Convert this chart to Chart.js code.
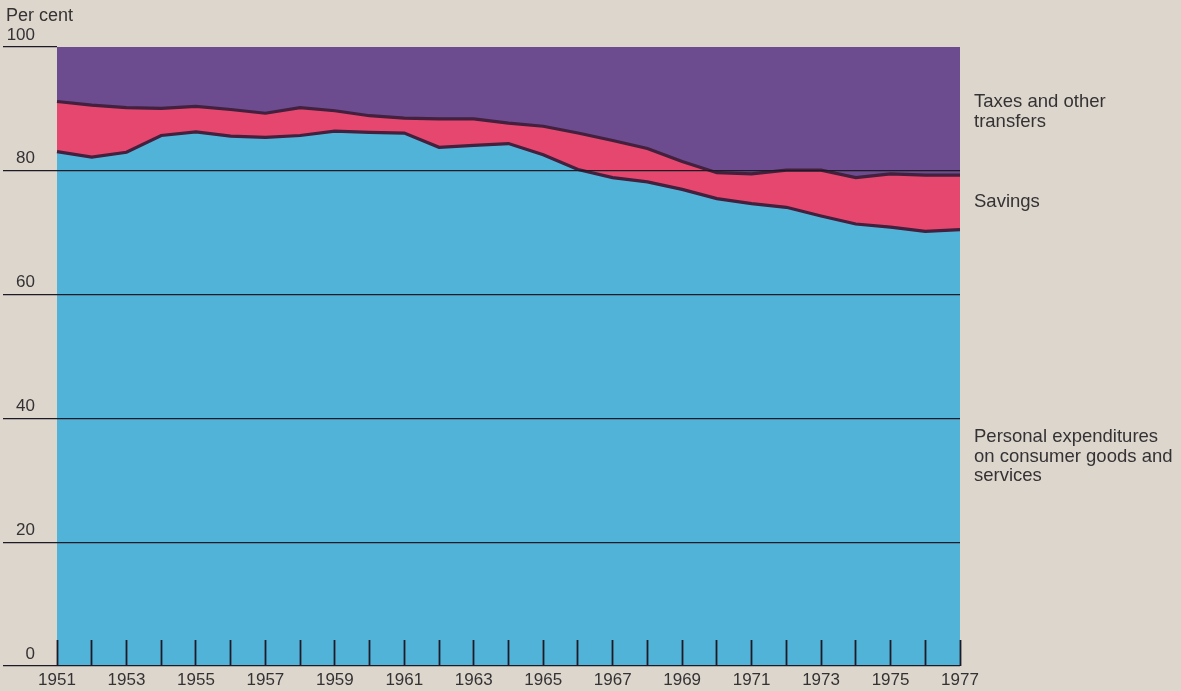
<!DOCTYPE html>
<html><head><meta charset="utf-8">
<script src="https://cdn.jsdelivr.net/npm/chart.js@4.4.1/dist/chart.umd.min.js"></script>
<style>html,body{margin:0;padding:0;background:#ddd6cd;overflow:hidden;}</style>
</head><body>
<canvas id="c" width="1181" height="691"></canvas>
<script>
// ---- data (per cent of personal income) ----
const years = [1951,1952,1953,1954,1955,1956,1957,1958,1959,1960,1961,1962,1963,1964,1965,1966,1967,1968,1969,1970,1971,1972,1973,1974,1975,1976,1977];
const consumption = [83.1,82.2,83.0,85.7,86.3,85.6,85.4,85.7,86.4,86.2,86.1,83.8,84.1,84.4,82.6,80.2,78.9,78.2,77.0,75.5,74.7,74.1,72.7,71.4,70.9,70.2,70.5];
const savings     = [8.1,8.4,7.2,4.4,4.1,4.3,3.9,4.5,3.3,2.7,2.4,4.6,4.3,3.3,4.6,5.9,6.0,5.4,4.5,4.2,4.8,6.0,7.4,7.5,8.6,9.1,8.8];
const taxes       = [8.8,9.4,9.8,9.9,9.6,10.1,10.7,9.8,10.3,11.1,11.5,11.6,11.6,12.3,12.8,13.9,15.1,16.4,18.5,20.3,20.5,19.9,19.9,21.1,20.5,20.7,20.7];
const yTicks = [0,20,40,60,80,100];
const yUnit = 'Per cent';
const seriesNames = [
  ['Personal expenditures','on consumer goods and','services'],
  ['Savings'],
  ['Taxes and other','transfers']
];

const INK = '#353233';
const LINE = '#1e1b26';
const EDGE = '#43203d';
const FONT = '"Liberation Sans", Arial, sans-serif';

const textPlugin = {
  id: 'texts',
  beforeDraw(chart) {
    const c = chart.ctx;
    c.save();
    c.fillStyle = '#ddd6cd';
    c.fillRect(0, 0, chart.width, chart.height);
    c.restore();
  },
  afterDraw(chart) {
    const c = chart.ctx;
    const a = chart.chartArea;
    c.save();
    c.fillStyle = INK;
    c.textAlign = 'left';
    c.textBaseline = 'alphabetic';
    c.font = '18px ' + FONT;
    c.fillText(yUnit, 6, 21);
    c.font = '18.5px ' + FONT;
    const x = a.right + 14;
    const starts = [442, 207, 107];
    seriesNames.forEach((lines, i) => {
      lines.forEach((t, j) => c.fillText(t, x, starts[i] + j * 19.5));
    });
    c.restore();
  }
};

new Chart(document.getElementById('c'), {
  type: 'line',
  data: {
    labels: years,
    datasets: [
      { label: seriesNames[0].join(' '), data: consumption, fill: 'origin',
        backgroundColor: '#52b3d9', borderColor: EDGE, borderWidth: 3.2, pointRadius: 0, tension: 0 },
      { label: seriesNames[1].join(' '), data: savings, fill: '-1',
        backgroundColor: '#e6476f', borderColor: EDGE, borderWidth: 3.2, pointRadius: 0, tension: 0 },
      { label: seriesNames[2].join(' '), data: taxes, fill: '-1',
        backgroundColor: '#6d4b8f', borderColor: 'rgba(0,0,0,0)', borderWidth: 0, pointRadius: 0, tension: 0 }
    ]
  },
  options: {
    responsive: false,
    animation: false,
    devicePixelRatio: 1,
    layout: { padding: { top: 47, right: 221, left: 3, bottom: 0 } },
    plugins: { legend: { display: false }, tooltip: { enabled: false } },
    scales: {
      x: {
        type: 'category',
        offset: false,
        border: { display: false },
        grid: { z: 1, drawOnChartArea: false, drawTicks: true, tickLength: -26, tickColor: LINE, tickWidth: 1.8 },
        ticks: {
          autoSkip: false, maxRotation: 0, minRotation: 0, padding: 30,
          color: INK, font: { family: FONT, size: 17 },
          callback: function(v, i) { return i % 2 === 0 ? String(this.getLabelForValue(v)) : ''; }
        },
        afterFit: s => { s.height = 25; }
      },
      y: {
        stacked: true,
        min: 0, max: 100,
        border: { display: false },
        afterBuildTicks: s => { s.ticks = yTicks.map(v => ({ value: v })); },
        grid: {
          z: 1,
          color: ctx => (ctx.tick && ctx.tick.value === 100) ? 'rgba(0,0,0,0)' : LINE,
          tickColor: LINE, lineWidth: 1.3, tickWidth: 1.3, tickLength: 54, drawTicks: true
        },
        ticks: { padding: -32, labelOffset: -12, color: INK, font: { family: FONT, size: 17 } },
        afterFit: s => { s.width = 54; }
      }
    }
  },
  plugins: [textPlugin]
});
</script>
</body></html>
